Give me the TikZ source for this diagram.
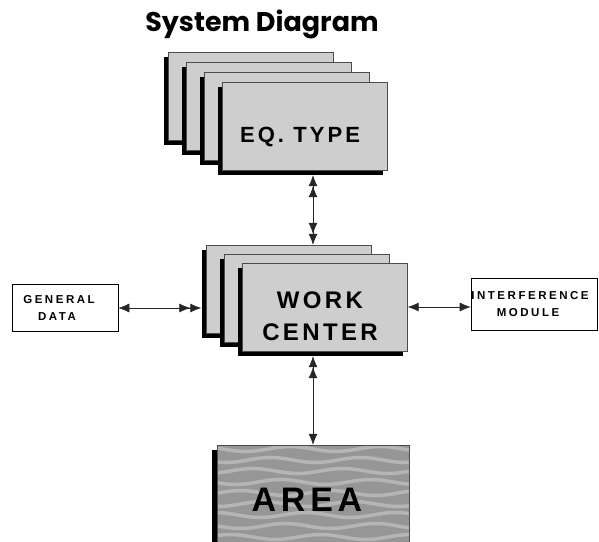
\documentclass[tikz,border=0pt]{standalone}
\usepackage{fontspec}
\setmainfont{Liberation Sans}
\newfontfamily\titlefont{Poppins}
\newfontfamily\cardfont{Liberation Sans}[LetterSpace=14]
\newfontfamily\smallfont{Liberation Sans}[LetterSpace=22]
\usetikzlibrary{arrows.meta,positioning,shadows,calc}
\definecolor{cardgray}{RGB}{206,206,206}
\definecolor{areagray}{RGB}{150,150,150}

\tikzset{
  wedge/.tip={Latex[length=11pt,width=9pt]},
  card/.style={draw=black!70, line width=0.4pt, fill=cardgray, inner sep=0pt,
    minimum width=165pt, minimum height=88pt,
    drop shadow={shadow xshift=-5pt, shadow yshift=-5pt, fill=black, opacity=1}},
  cardtext/.style={font=\cardfont\bfseries\fontsize{24}{32}\selectfont, align=center},
  % wavy light streaks across the area box (text box is empty, so origin = centre)
  areabox/.style={card, fill=areagray, minimum width=192pt, minimum height=108pt,
    font=\cardfont\bfseries\fontsize{34}{36}\selectfont,
    path picture={
      \foreach \yy/\ph in {-50/0, -39/80, -28/150, -17/40, -6/200, 5/110, 16/300, 27/20, 38/240, 49/130}
        \draw[white, opacity=0.3, line width=3.5pt, domain=-105:105, samples=50, smooth]
          plot (\x, {\yy+2.5*sin(4*\x+\ph)});
    }},
  smallbox/.style={draw, line width=0.6pt, fill=white, align=center, inner sep=0pt,
    font=\smallfont\bfseries\fontsize{11.5}{17}\selectfont},
  link/.style={line width=0.6pt, draw=black!85}
}

\begin{document}
\begin{tikzpicture}[x=1pt,y=-1pt]
  \clip (0,0) rectangle (599,541);

  \node[font=\titlefont\bfseries\fontsize{27}{30}\selectfont] (title) at (262,24) {System Diagram};

  % equipment type cards, back to front
  \foreach \k in {3,2,1}
    \node[card] (eq\k) at (305-18*\k,126-10*\k) {};
  \node[card, cardtext, font=\cardfont\bfseries\fontsize{22}{30}\selectfont] (eqtype) at (305,126)
    {\raisebox{-16pt}[0pt][0pt]{EQ. TYPE\kern10pt}};

  % work center cards
  \foreach \k in {2,1}
    \node[card] (wc\k) at (325-18*\k,307-9*\k) {};
  \node[card, cardtext] (wc) at (325,307)
    {\raisebox{-17pt}[0pt][0pt]{\begin{tabular}{@{}c@{}}WORK\\CENTER\end{tabular}\kern10pt}};

  \node[areabox] (area) at (313,499) {\raisebox{-12pt}[0pt][0pt]{\makebox[0pt]{AREA\kern12pt}}};

  \node[smallbox, minimum width=106pt, minimum height=47pt] (gen) at (65,308) {GENERAL\kern12pt\\DATA\kern16pt};
  \node[smallbox, minimum width=126pt, minimum height=52pt] (inter) at (534,304) {INTERFERENCE\kern8pt\\MODULE\kern12pt};

  % links
  \draw[link, {wedge[]wedge[]}-{wedge[]wedge[]}] ($(eqtype.south -| area.north)+(0,5)$) -- (wc2.north -| area.north);
  \draw[link, {wedge[]}-{wedge[]wedge[]}] (gen.east) -- ($(gen.east -| wc2.west)+(-5,0)$);
  \draw[link, {wedge[]}-{wedge[]}] (wc.east) -- (wc.east -| inter.west);
  \draw[link, {wedge[]wedge[]}-{wedge[]}] ($(wc.south -| area.north)+(0,5)$) -- (area.north);
\end{tikzpicture}
\end{document}
